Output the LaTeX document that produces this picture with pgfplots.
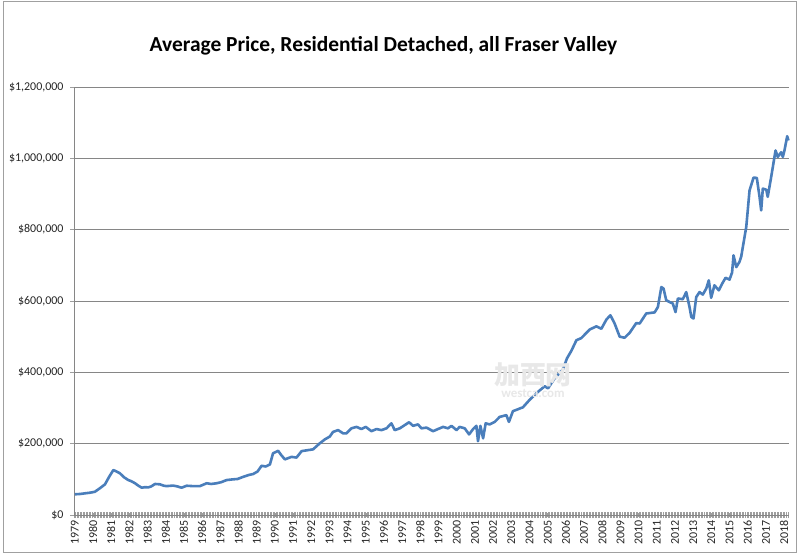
\documentclass[border=0pt]{standalone}
\usepackage{pgfplots}
\pgfplotsset{compat=1.18}
\usepackage{pgfplotstable}
\usepackage{fontspec}
\setmainfont{Carlito}
\newfontfamily\cjk{Noto Sans CJK SC}
\definecolor{exblue}{HTML}{4A7EBB}
\definecolor{gridgray}{HTML}{868686}
\definecolor{bordergray}{HTML}{A0A0A0}
\pgfplotstableread{
yr val
1979.00 58000
1979.30 59000
1979.60 61000
1979.83 62500
1980.10 65000
1980.38 75000
1980.66 86000
1980.90 108000
1981.12 126000
1981.25 123000
1981.48 117000
1981.70 106000
1981.94 98000
1982.10 95000
1982.31 89000
1982.50 82000
1982.68 76500
1982.85 78000
1983.04 77500
1983.20 80000
1983.41 87000
1983.68 86000
1983.90 82000
1984.05 81000
1984.40 82500
1984.65 80000
1984.87 76500
1985.15 82000
1985.50 81000
1985.88 81000
1986.25 89000
1986.50 87000
1986.80 89000
1987.05 92000
1987.35 98000
1987.71 100000
1987.95 101000
1988.26 107000
1988.55 112000
1988.81 115000
1989.05 122000
1989.27 138000
1989.50 136000
1989.73 142000
1989.90 173000
1990.18 180000
1990.35 168000
1990.55 156000
1990.92 163000
1991.19 161000
1991.47 179000
1991.83 182000
1992.10 184000
1992.47 201000
1992.75 212000
1993.02 220000
1993.20 233000
1993.48 238000
1993.75 229000
1993.94 229000
1994.21 243000
1994.49 247000
1994.76 241000
1995.00 247000
1995.31 235000
1995.59 241000
1995.86 238000
1996.14 243000
1996.41 257000
1996.59 238000
1996.87 243000
1997.20 254000
1997.38 260000
1997.60 250000
1997.87 254000
1998.06 243000
1998.34 245000
1998.70 235000
1998.97 241000
1999.25 247000
1999.52 243000
1999.71 250000
1999.99 238000
2000.16 247000
2000.44 243000
2000.68 226000
2000.90 241000
2001.08 250000
2001.17 207000
2001.30 250000
2001.45 215000
2001.59 257000
2001.81 254000
2002.09 261000
2002.36 275000
2002.73 280000
2002.87 261000
2003.09 291000
2003.64 302000
2004.01 323000
2004.46 345000
2004.84 361000
2005.02 355000
2005.38 383000
2005.84 408000
2006.06 439000
2006.30 460000
2006.58 490000
2006.85 496000
2007.31 520000
2007.68 529000
2007.95 522000
2008.23 548000
2008.45 560000
2008.68 537000
2008.96 500000
2009.23 497000
2009.51 511000
2009.87 538000
2010.06 537000
2010.42 565000
2010.88 568000
2011.06 583000
2011.25 639000
2011.37 635000
2011.52 602000
2011.71 597000
2011.88 593000
2012.03 569000
2012.16 607000
2012.43 605000
2012.62 625000
2012.80 583000
2012.90 555000
2013.02 551000
2013.17 611000
2013.35 625000
2013.53 618000
2013.72 635000
2013.86 658000
2013.99 609000
2014.17 644000
2014.41 630000
2014.60 649000
2014.78 665000
2015.00 660000
2015.14 680000
2015.22 728000
2015.37 695000
2015.55 710000
2015.64 724000
2015.92 808000
2016.10 910000
2016.32 946000
2016.50 945000
2016.65 892000
2016.74 854000
2016.83 915000
2017.02 912000
2017.10 892000
2017.29 948000
2017.53 1022000
2017.65 1004000
2017.84 1017000
2017.93 1004000
2018.02 1022000
2018.17 1062000
2018.24 1050000
}\pricedata
\begin{document}
\begin{tikzpicture}
\useasboundingbox (0,0) rectangle (800bp,556bp);
\fill[white] (0,0) rectangle (800bp,556bp);
\draw[bordergray,line width=1bp] (3bp,3bp) rectangle (796bp,554bp);
\node[font=\bfseries\fontsize{21.5}{24}\selectfont] at (383.5bp,510bp) {Average Price, Residential Detached, all Fraser Valley};
\begin{axis}[
  at={(74bp,41bp)}, anchor=south west,
  scale only axis, width=715bp, height=428bp,
  xmin=1978.956, xmax=2018.27,
  ymin=0, ymax=1200000,
  scaled y ticks=false,
  axis x line=bottom, axis y line=left,
  axis line style={-, draw=gridgray, line width=0.8bp},
  ytick={0,200000,400000,600000,800000,1000000,1200000},
  yticklabels={{\$0},{\$200,000},{\$400,000},{\$600,000},{\$800,000},{\$1,000,000},{\$1,200,000}},
  ymajorgrids, grid style={gridgray, line width=0.8bp},
  xtick={1979,1980,...,2018},
  minor xtick={1978.9583,1979.0417,...,2018.3},
  /pgf/number format/1000 sep={},
  /pgf/number format/assume math mode=true,
  tick style={gridgray!80, line width=0.55bp},
  ytick align=outside, major tick length=4bp,
  xtick align=center,
  minor tick length=6bp,
  ticklabel style={font=\fontsize{12}{13}\selectfont, text=black!85},
  xticklabel style={rotate=90, anchor=east},
  yticklabel style={xshift=-3bp},
  clip=false,
]
\addplot[exblue, line width=2.6bp, line join=round] table[x=yr,y=val] {\pricedata};
\end{axis}
\node[font=\cjk\bfseries\fontsize{26}{28}\selectfont, text=gray!18] at (533bp,181bp) {加西网};
\node[font=\bfseries\fontsize{13}{14}\selectfont, text=gray!18] at (533bp,163bp) {westca.com};
\end{tikzpicture}
\end{document}
